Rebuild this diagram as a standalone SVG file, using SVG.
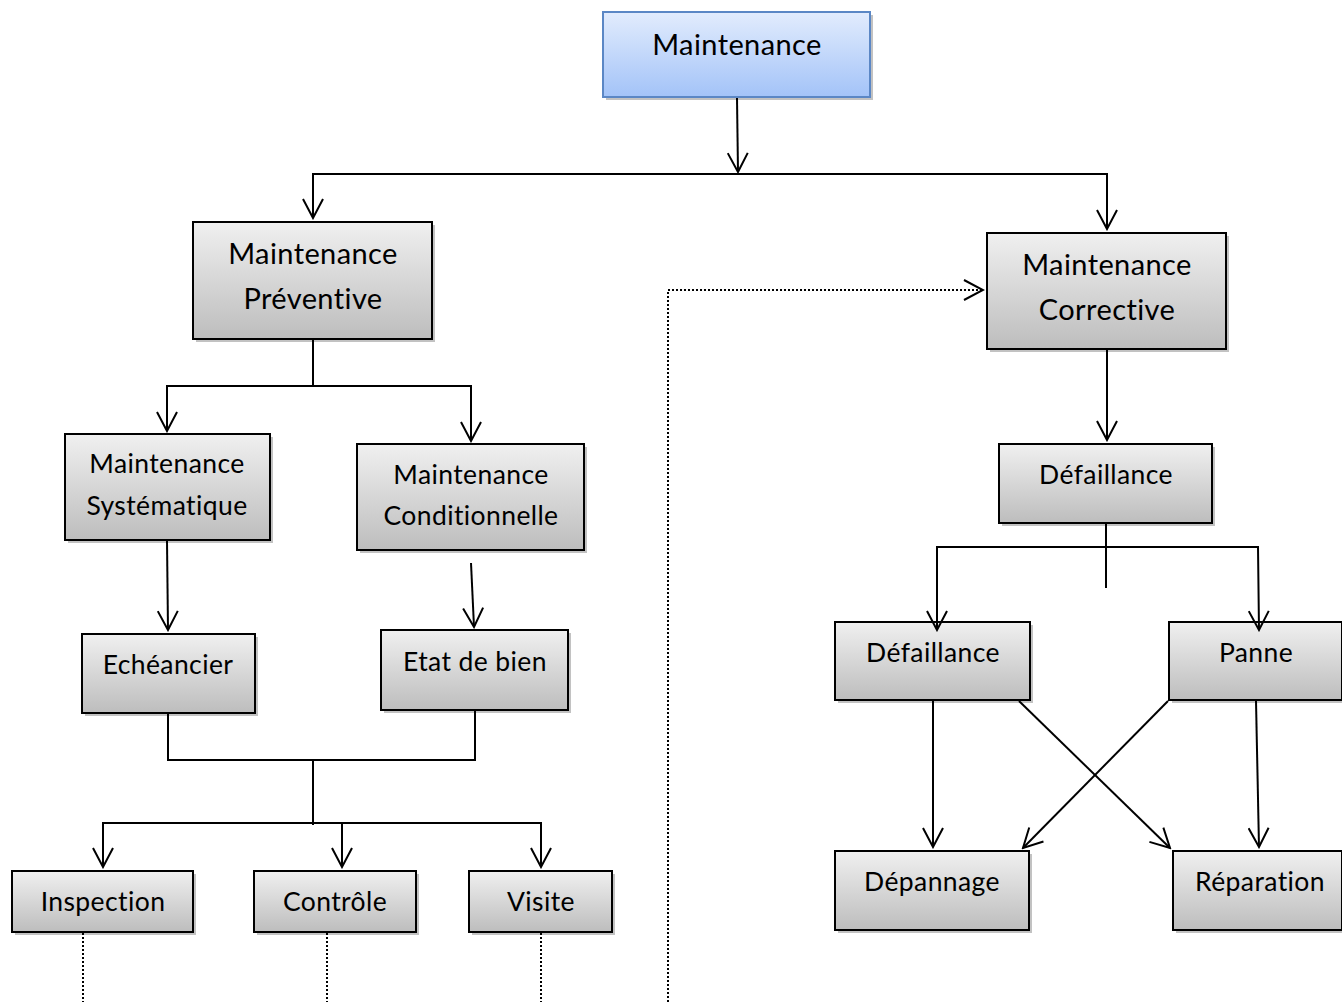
<svg xmlns="http://www.w3.org/2000/svg" width="1342" height="1002" viewBox="0 0 1342 1002">
<style>
.box{fill:url(#gray);stroke:#000;stroke-width:2}
.shadow{fill:#9a9a9a;opacity:0.6}
.t{font-family:Lato,"Liberation Sans",sans-serif;fill:#000;text-anchor:middle;letter-spacing:0.4px}
.big{font-size:29px}
.mid{font-size:26.5px}
.c{fill:none;stroke:#000;stroke-width:2}
.d{fill:none;stroke:#000;stroke-width:2;stroke-dasharray:2 2}
</style>
<defs>
<linearGradient id="gray" x1="0" y1="0" x2="0" y2="1">
<stop offset="0" stop-color="#f0f0f0"/>
<stop offset="1" stop-color="#bdbdbd"/>
</linearGradient>
<linearGradient id="blue" x1="0" y1="0" x2="0" y2="1">
<stop offset="0" stop-color="#e2ecfd"/>
<stop offset="1" stop-color="#a3c3f8"/>
</linearGradient>
<marker id="arr" viewBox="0 0 22 22" refX="20" refY="11" markerWidth="22" markerHeight="22" markerUnits="userSpaceOnUse" orient="auto">
<path d="M1,1 L20,11 L1,21" fill="none" stroke="#000" stroke-width="2"/>
</marker>
</defs>
<g id="n-maintenance">
<rect class="shadow" x="606" y="15" width="267" height="85"/>
<rect x="603" y="12" width="267" height="85" fill="url(#blue)" stroke="#5b87c5" stroke-width="2"/>
<text class="t big" x="737" y="55">Maintenance</text>
</g>
<g id="n-preventive">
<rect class="shadow" x="196" y="225" width="239" height="117"/>
<rect class="box" x="193" y="222" width="239" height="117"/>
<text class="t big" x="313" y="264">Maintenance</text>
<text class="t big" x="313" y="309">Préventive</text>
</g>
<g id="n-corrective">
<rect class="shadow" x="990" y="236" width="239" height="116"/>
<rect class="box" x="987" y="233" width="239" height="116"/>
<text class="t big" x="1107" y="275">Maintenance</text>
<text class="t big" x="1107" y="320">Corrective</text>
</g>
<g id="n-systematique">
<rect class="shadow" x="68" y="437" width="205" height="106"/>
<rect class="box" x="65" y="434" width="205" height="106"/>
<text class="t mid" x="167" y="473">Maintenance</text>
<text class="t mid" x="167" y="515">Systématique</text>
</g>
<g id="n-conditionnelle">
<rect class="shadow" x="360" y="447" width="227" height="106"/>
<rect class="box" x="357" y="444" width="227" height="106"/>
<text class="t mid" x="471" y="484">Maintenance</text>
<text class="t mid" x="471" y="525">Conditionnelle</text>
</g>
<g id="n-echeancier">
<rect class="shadow" x="85" y="637" width="173" height="79"/>
<rect class="box" x="82" y="634" width="173" height="79"/>
<text class="t mid" x="168" y="674">Echéancier</text>
</g>
<g id="n-etat">
<rect class="shadow" x="384" y="633" width="187" height="80"/>
<rect class="box" x="381" y="630" width="187" height="80"/>
<text class="t mid" x="475" y="671">Etat de bien</text>
</g>
<g id="n-inspection">
<rect class="shadow" x="15" y="874" width="181" height="61"/>
<rect class="box" x="12" y="871" width="181" height="61"/>
<text class="t mid" x="103" y="911">Inspection</text>
</g>
<g id="n-controle">
<rect class="shadow" x="257" y="874" width="162" height="61"/>
<rect class="box" x="254" y="871" width="162" height="61"/>
<text class="t mid" x="335" y="911">Contrôle</text>
</g>
<g id="n-visite">
<rect class="shadow" x="472" y="874" width="143" height="61"/>
<rect class="box" x="469" y="871" width="143" height="61"/>
<text class="t mid" x="541" y="911">Visite</text>
</g>
<g id="n-defaillance">
<rect class="shadow" x="1002" y="447" width="213" height="79"/>
<rect class="box" x="999" y="444" width="213" height="79"/>
<text class="t mid" x="1106" y="484">Défaillance</text>
</g>
<g id="n-defaillance2">
<rect class="shadow" x="838" y="625" width="195" height="78"/>
<rect class="box" x="835" y="622" width="195" height="78"/>
<text class="t mid" x="933" y="662">Défaillance</text>
</g>
<g id="n-panne">
<rect class="shadow" x="1172" y="625" width="173" height="78"/>
<rect class="box" x="1169" y="622" width="173" height="78"/>
<text class="t mid" x="1256" y="662">Panne</text>
</g>
<g id="n-depannage">
<rect class="shadow" x="838" y="854" width="194" height="79"/>
<rect class="box" x="835" y="851" width="194" height="79"/>
<text class="t mid" x="932" y="891">Dépannage</text>
</g>
<g id="n-reparation">
<rect class="shadow" x="1176" y="854" width="169" height="79"/>
<rect class="box" x="1173" y="851" width="169" height="79"/>
<text class="t mid" x="1260" y="891">Réparation</text>
</g>
<g id="connectors">
<line class="c" x1="737" y1="98" x2="738" y2="172" marker-end="url(#arr)"/>
<polyline class="c" points="313,218 313,174 1107,174 1107,229" marker-end="url(#arr)"/>
<line class="c" x1="313" y1="174" x2="313" y2="218" marker-end="url(#arr)"/>
<polyline class="c" points="313,340 313,386"/>
<polyline class="c" points="167,431 167,386 471,386 471,441" marker-end="url(#arr)"/>
<line class="c" x1="167" y1="386" x2="167" y2="431" marker-end="url(#arr)"/>
<line class="c" x1="167" y1="541" x2="168" y2="630" marker-end="url(#arr)"/>
<line class="c" x1="471" y1="563" x2="474" y2="627" marker-end="url(#arr)"/>
<polyline class="c" points="168,714 168,760 475,760 475,711"/>
<line class="c" x1="313" y1="760" x2="313" y2="825"/>
<polyline class="c" points="103,867 103,823 541,823 541,867" marker-end="url(#arr)"/>
<line class="c" x1="103" y1="823" x2="103" y2="867" marker-end="url(#arr)"/>
<line class="c" x1="342" y1="823" x2="342" y2="867" marker-end="url(#arr)"/>
<line class="c" x1="1107" y1="350" x2="1107" y2="440" marker-end="url(#arr)"/>
<line class="c" x1="1106" y1="524" x2="1106" y2="588" stroke-width="1.5"/>
<polyline class="c" points="937,630 937,547 1258,547 1259,630" marker-end="url(#arr)"/>
<line class="c" x1="937" y1="547" x2="937" y2="630" marker-end="url(#arr)"/>
<line class="c" x1="933" y1="701" x2="933" y2="847" marker-end="url(#arr)"/>
<line class="c" x1="1256" y1="701" x2="1259" y2="847" marker-end="url(#arr)"/>
<line class="c" x1="1019" y1="701" x2="1170" y2="848" marker-end="url(#arr)"/>
<line class="c" x1="1168" y1="701" x2="1023" y2="848" marker-end="url(#arr)"/>
<line class="d" x1="83" y1="933" x2="83" y2="1002"/>
<line class="d" x1="327" y1="933" x2="327" y2="1002"/>
<line class="d" x1="541" y1="933" x2="541" y2="1002"/>
<polyline class="d" points="668,1002 668,290 983,290" marker-end="url(#arr)"/>
</g>
</svg>
